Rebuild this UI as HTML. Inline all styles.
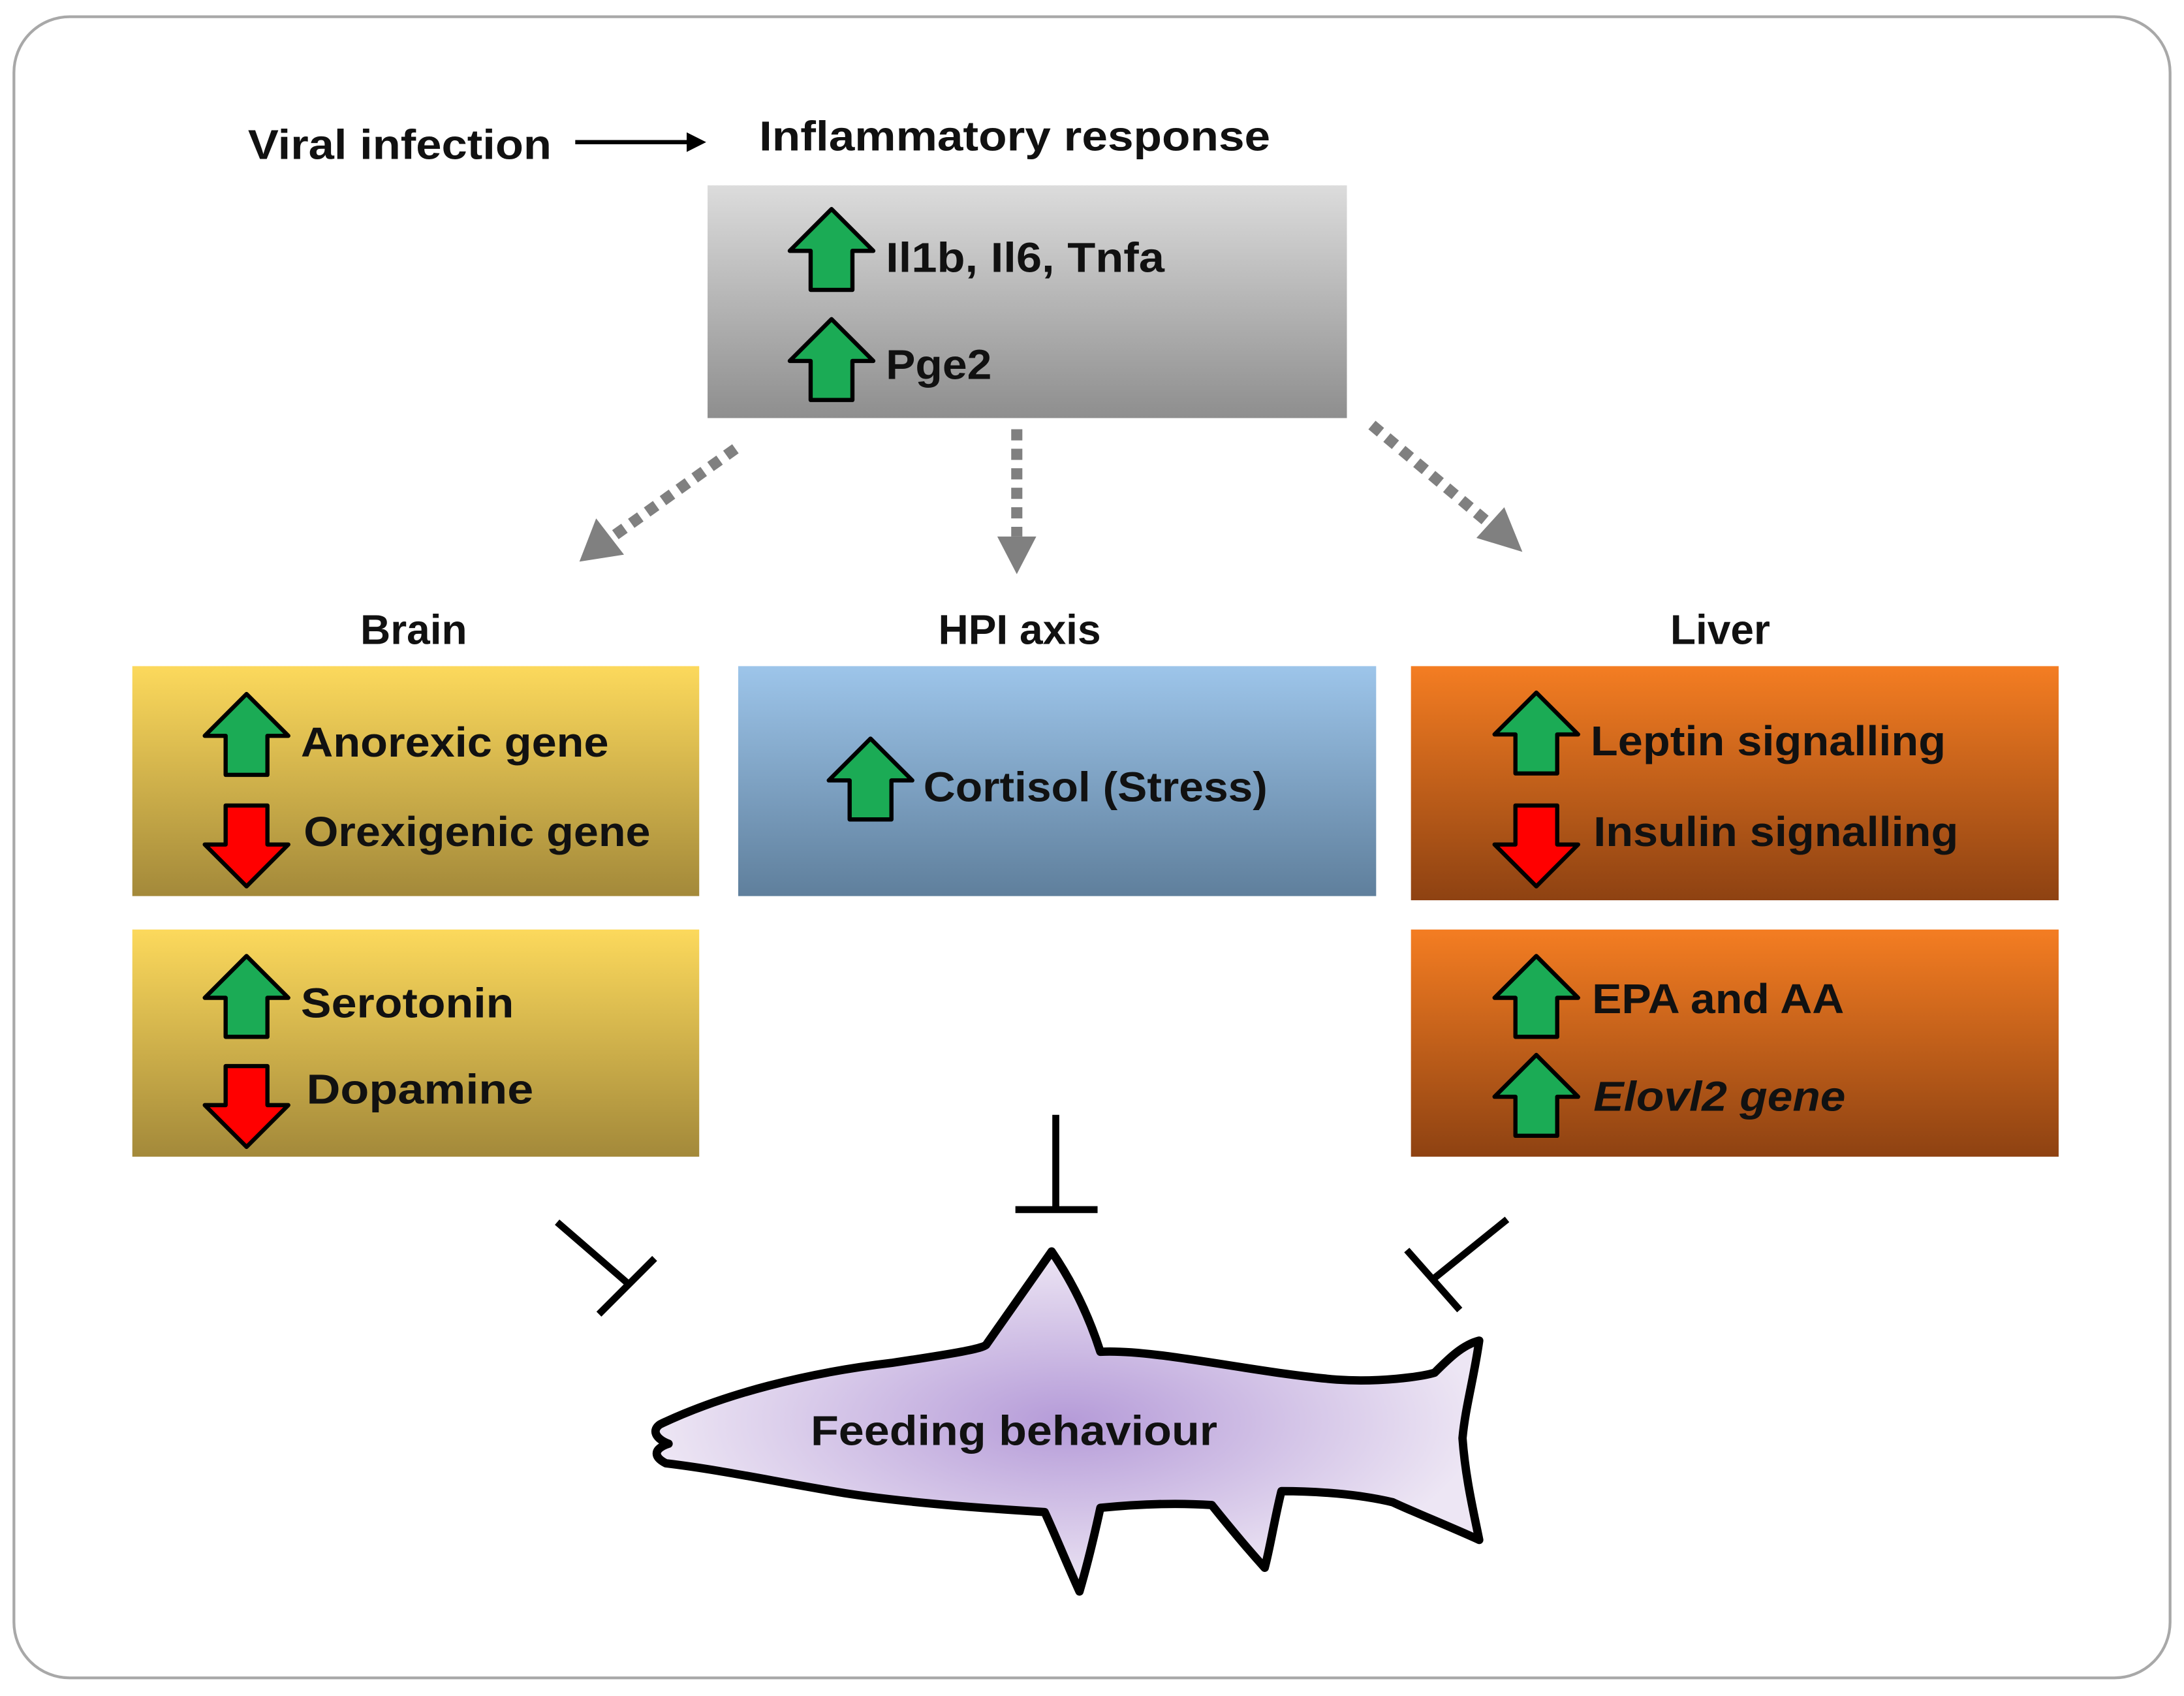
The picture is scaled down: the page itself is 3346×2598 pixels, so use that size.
<!DOCTYPE html>
<html><head><meta charset="utf-8"><style>
html,body{margin:0;padding:0;background:#fff;}
svg{display:block;}
text{font-family:"Liberation Sans",sans-serif;font-weight:bold;fill:#111;}
</style></head><body>
<svg width="3346" height="2598" viewBox="0 0 1568 1217" preserveAspectRatio="none" xmlns="http://www.w3.org/2000/svg">
<defs>
<linearGradient id="gGray" x1="0" y1="0" x2="0" y2="1"><stop offset="0" stop-color="#dcdcdc"/><stop offset="1" stop-color="#8e8e8e"/></linearGradient>
<linearGradient id="gYel" x1="0" y1="0" x2="0" y2="1"><stop offset="0" stop-color="#fcd95c"/><stop offset="1" stop-color="#a3893a"/></linearGradient>
<linearGradient id="gBlue" x1="0" y1="0" x2="0" y2="1"><stop offset="0" stop-color="#9dc5ea"/><stop offset="1" stop-color="#5f7f9c"/></linearGradient>
<linearGradient id="gOr" x1="0" y1="0" x2="0" y2="1"><stop offset="0" stop-color="#f47d22"/><stop offset="1" stop-color="#8e4212"/></linearGradient>
<radialGradient id="gFish" cx="0.5" cy="0.5" r="0.5"><stop offset="0" stop-color="#b59bd8"/><stop offset="1" stop-color="#ede6f4"/></radialGradient>
<g id="up"><polygon points="30,0 60,30 45,30 45,58 15,58 15,30 0,30" fill="#1bab55" stroke="#000" stroke-width="3" stroke-linejoin="round"/></g>
<g id="dn"><polygon points="15,0 45,0 45,28 60,28 30,58 0,28 15,28" fill="#f00" stroke="#000" stroke-width="3" stroke-linejoin="round"/></g>
</defs>
<rect x="10" y="12" width="1548" height="1192" rx="40" fill="#fff" stroke="#a8a8a8" stroke-width="2"/>

<text x="178" y="114" font-size="30" textLength="218" lengthAdjust="spacingAndGlyphs">Viral infection</text>
<line x1="413" y1="102" x2="495" y2="102" stroke="#000" stroke-width="3"/>
<polygon points="507,102 493,95 493,109" fill="#000"/>
<text x="545" y="108" font-size="30" textLength="367" lengthAdjust="spacingAndGlyphs">Inflammatory response</text>

<rect x="508" y="133" width="459" height="167" fill="url(#gGray)"/>
<use href="#up" x="567" y="150"/>
<text x="636" y="195" font-size="30" textLength="200" lengthAdjust="spacingAndGlyphs">Il1b, Il6, Tnfa</text>
<use href="#up" x="567" y="229"/>
<text x="636" y="272" font-size="30" textLength="76" lengthAdjust="spacingAndGlyphs">Pge2</text>

<g stroke="#808080" stroke-width="8" stroke-dasharray="8 6" fill="none">
<line x1="528" y1="322" x2="440" y2="385"/>
<line x1="730" y1="308" x2="730" y2="385"/>
<line x1="985" y1="305" x2="1072" y2="378"/>
</g>
<g fill="#808080">
<polygon points="416,403 428,372 448,398"/>
<polygon points="730,412 716,385 744,385"/>
<polygon points="1093,396 1060,386 1080,364"/>
</g>

<text x="297" y="462" font-size="30" text-anchor="middle">Brain</text>
<text x="732" y="462" font-size="30" text-anchor="middle">HPI axis</text>
<text x="1235" y="462" font-size="30" text-anchor="middle">Liver</text>

<rect x="95" y="478" width="407" height="165" fill="url(#gYel)"/>
<rect x="95" y="667" width="407" height="163" fill="url(#gYel)"/>
<rect x="530" y="478" width="458" height="165" fill="url(#gBlue)"/>
<rect x="1013" y="478" width="465" height="168" fill="url(#gOr)"/>
<rect x="1013" y="667" width="465" height="163" fill="url(#gOr)"/>

<use href="#up" x="147" y="498"/>
<text x="216" y="543" font-size="30" textLength="221" lengthAdjust="spacingAndGlyphs">Anorexic gene</text>
<use href="#dn" x="147" y="578"/>
<text x="218" y="607" font-size="30" textLength="249" lengthAdjust="spacingAndGlyphs">Orexigenic gene</text>
<use href="#up" x="147" y="686"/>
<text x="216" y="730" font-size="30" textLength="153" lengthAdjust="spacingAndGlyphs">Serotonin</text>
<use href="#dn" x="147" y="765"/>
<text x="220" y="792" font-size="30" textLength="163" lengthAdjust="spacingAndGlyphs">Dopamine</text>

<use href="#up" x="595" y="530"/>
<text x="663" y="575" font-size="30" textLength="247" lengthAdjust="spacingAndGlyphs">Cortisol (Stress)</text>

<use href="#up" x="1073" y="497"/>
<text x="1142" y="542" font-size="30" textLength="255" lengthAdjust="spacingAndGlyphs">Leptin signalling</text>
<use href="#dn" x="1073" y="578"/>
<text x="1144" y="607" font-size="30" textLength="262" lengthAdjust="spacingAndGlyphs">Insulin signalling</text>
<use href="#up" x="1073" y="686"/>
<text x="1143" y="727" font-size="30" textLength="181" lengthAdjust="spacingAndGlyphs">EPA and AA</text>
<use href="#up" x="1073" y="757"/>
<text x="1144" y="797" font-size="30" font-style="italic" textLength="181" lengthAdjust="spacingAndGlyphs">Elovl2 gene</text>

<g stroke="#000" stroke-width="5" fill="none">
<line x1="400" y1="877" x2="452" y2="922"/>
<line x1="430" y1="943" x2="470" y2="903"/>
<line x1="758" y1="800" x2="758" y2="868"/>
<line x1="729" y1="868" x2="788" y2="868"/>
<line x1="1082" y1="875" x2="1030" y2="917"/>
<line x1="1010" y1="897" x2="1048" y2="940"/>
</g>

<path d="M474,1022 C520,1000 580,985 640,978 C680,972 705,968 708,965 L755,898 C770,920 782,945 790,970 C830,968 900,985 960,990 C990,992 1020,988 1030,985 C1040,975 1050,965 1062,962 C1058,990 1052,1010 1050,1032 C1052,1060 1058,1085 1062,1105 C1040,1095 1015,1085 1000,1078 C975,1072 945,1070 920,1070 C915,1090 912,1110 908,1125 C890,1105 878,1090 870,1080 C840,1078 810,1080 790,1082 C785,1105 780,1125 775,1142 C765,1120 757,1100 750,1085 C700,1082 650,1078 610,1072 C560,1064 520,1055 478,1050 C470,1046 468,1040 480,1036 C470,1032 468,1026 474,1022 Z" fill="url(#gFish)" stroke="#000" stroke-width="6" stroke-linejoin="round"/>
<text x="728" y="1037" font-size="30" text-anchor="middle" textLength="292" lengthAdjust="spacingAndGlyphs">Feeding behaviour</text>
</svg>
</body></html>
